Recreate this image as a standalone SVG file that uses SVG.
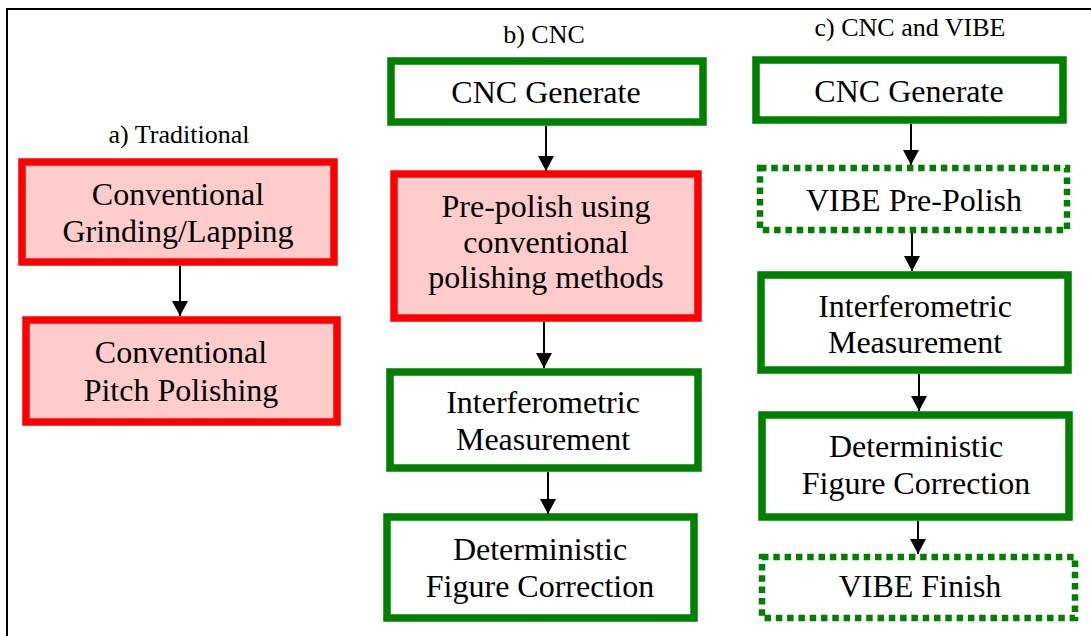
<svg xmlns="http://www.w3.org/2000/svg" width="1091" height="636" viewBox="0 0 1091 636">
  <defs>
    <style>
      .frame { fill: none; stroke: #000; stroke-width: 2; }
      .trad { fill: #FFCCCC; stroke: #FF0000; stroke-width: 7.5; }
      .cnc { fill: #FFFFFF; stroke: #008000; stroke-width: 7.5; }
      .vibe { fill: #FFFFFF; stroke: #008000; stroke-width: 6.5; stroke-dasharray: 6.5 4.8; }
      .t { font-family: "Liberation Serif", "Times New Roman", serif; font-size: 32px; fill: #000; text-anchor: middle; }
      .cap { font-family: "Liberation Serif", "Times New Roman", serif; font-size: 26px; fill: #000; text-anchor: middle; }
      .conn line { stroke: #000; stroke-width: 2; marker-end: url(#head); }
    </style>
    <marker id="head" viewBox="0 0 15 16" refX="15" refY="8" markerWidth="15" markerHeight="16" markerUnits="userSpaceOnUse" orient="auto">
      <path d="M0,0 L15,8 L0,16 z" fill="#000"/>
    </marker>
  </defs>

  <rect width="1091" height="636" fill="#FFFFFF"/>
  <!-- outer frame: top and left edges -->
  <path class="frame" d="M7,636 L7,9 L1091,9"/>

  <!-- column captions -->
  <text class="cap" x="179" y="143">a) Traditional</text>
  <text class="cap" x="544" y="43">b) CNC</text>
  <text class="cap" x="910" y="36">c) CNC and VIBE</text>

  <!-- a) traditional route -->
  <g id="a-grinding">
    <rect class="trad" x="22" y="162" width="312" height="100"/>
    <text class="t" x="178" y="205">Conventional</text>
    <text class="t" x="178" y="242">Grinding/Lapping</text>
  </g>
  <g id="a-pitch">
    <rect class="trad" x="26" y="320" width="311" height="102"/>
    <text class="t" x="181" y="363">Conventional</text>
    <text class="t" x="181" y="401">Pitch Polishing</text>
  </g>

  <!-- b) CNC route -->
  <g id="b-generate">
    <rect class="cnc" x="391" y="61" width="312" height="61"/>
    <text class="t" x="546" y="103">CNC Generate</text>
  </g>
  <g id="b-prepolish">
    <rect class="trad" x="394" y="174" width="304" height="144"/>
    <text class="t" x="546" y="217">Pre-polish using</text>
    <text class="t" x="546" y="253">conventional</text>
    <text class="t" x="546" y="288">polishing methods</text>
  </g>
  <g id="b-measure">
    <rect class="cnc" x="390" y="372" width="308" height="96"/>
    <text class="t" x="543" y="413">Interferometric</text>
    <text class="t" x="543" y="450">Measurement</text>
  </g>
  <g id="b-correct">
    <rect class="cnc" x="387" y="517" width="307" height="101"/>
    <text class="t" x="540" y="560">Deterministic</text>
    <text class="t" x="540" y="597">Figure Correction</text>
  </g>

  <!-- c) CNC and VIBE route -->
  <g id="c-generate">
    <rect class="cnc" x="756" y="60" width="307" height="60"/>
    <text class="t" x="909" y="102">CNC Generate</text>
  </g>
  <g id="c-prepolish">
    <rect class="vibe" x="760" y="168" width="307" height="62"/>
    <text class="t" x="914" y="211">VIBE Pre-Polish</text>
  </g>
  <g id="c-measure">
    <rect class="cnc" x="761" y="275" width="307" height="95"/>
    <text class="t" x="915" y="317">Interferometric</text>
    <text class="t" x="915" y="353">Measurement</text>
  </g>
  <g id="c-correct">
    <rect class="cnc" x="762" y="415" width="307" height="102"/>
    <text class="t" x="916" y="457">Deterministic</text>
    <text class="t" x="916" y="494">Figure Correction</text>
  </g>
  <g id="c-finish">
    <rect class="vibe" x="762" y="557" width="313" height="61"/>
    <text class="t" x="920" y="597">VIBE Finish</text>
  </g>

  <!-- connectors -->
  <g id="connectors" class="conn">
    <line x1="180" y1="266" x2="180" y2="316"/>
    <line x1="546" y1="126" x2="546" y2="171"/>
    <line x1="544" y1="322" x2="544" y2="368"/>
    <line x1="548" y1="472" x2="548" y2="514"/>
    <line x1="911" y1="124" x2="911" y2="165"/>
    <line x1="912" y1="233" x2="912" y2="271"/>
    <line x1="919" y1="374" x2="919" y2="411"/>
    <line x1="918" y1="521" x2="918" y2="554"/>
  </g>
</svg>
